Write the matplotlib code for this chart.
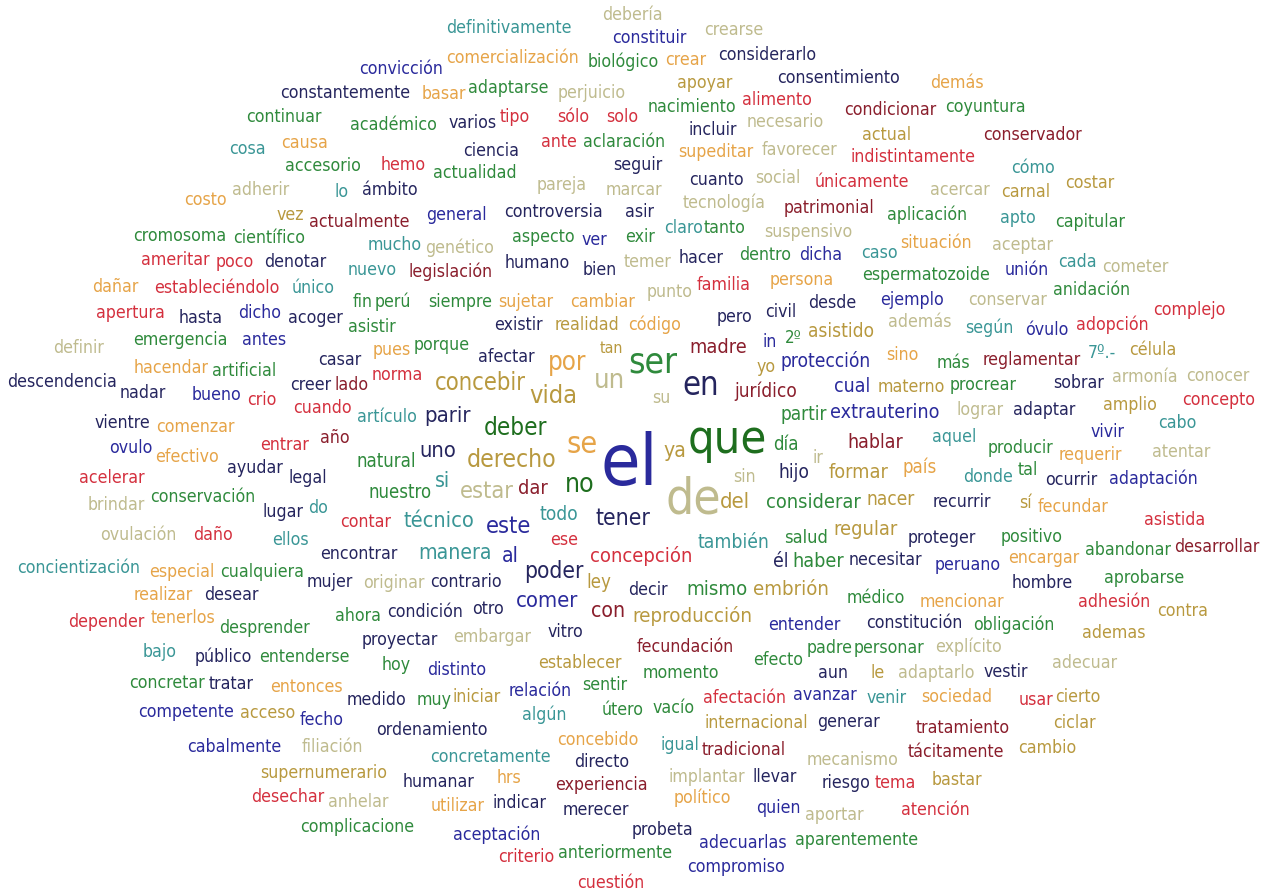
import matplotlib
matplotlib.use('Agg')
import matplotlib.pyplot as plt
from matplotlib import font_manager

# word cloud (pixel positions: left edge, baseline)
words = [
    'debería', 'definitivamente', 'crearse', 'constituir', 'considerarlo', 'comercialización', 'biológico', 'crear',
    'convicción', 'consentimiento', 'demás', 'apoyar', 'adaptarse', 'basar', 'perjuicio', 'constantemente',
    'alimento', 'coyuntura', 'nacimiento', 'condicionar', 'continuar', 'tipo', 'sólo', 'solo',
    'necesario', 'académico', 'varios', 'incluir', 'conservador', 'actual', 'causa', 'ante',
    'aclaración', 'cosa', 'ciencia', 'supeditar', 'favorecer', 'indistintamente', 'hemo', 'accesorio',
    'seguir', 'cómo', 'actualidad', 'cuanto', 'social', 'únicamente', 'costar', 'pareja',
    'adherir', 'lo', 'ámbito', 'marcar', 'acercar', 'carnal', 'costo', 'tecnología',
    'patrimonial', 'controversia', 'asir', 'aplicación', 'vez', 'general', 'apto', 'actualmente',
    'capitular', 'claro', 'tanto', 'suspensivo', 'cromosoma', 'científico', 'aspecto', 'exir',
    'ver', 'situación', 'mucho', 'aceptar', 'genético', 'caso', 'dentro', 'dicha',
    'hacer', 'ameritar', 'poco', 'denotar', 'temer', 'cada', 'humano', 'cometer',
    'nuevo', 'legislación', 'bien', 'unión', 'espermatozoide', 'persona', 'familia', 'dañar',
    'estableciéndolo', 'único', 'anidación', 'punto', 'conservar', 'fin', 'perú', 'siempre',
    'sujetar', 'cambiar', 'ejemplo', 'desde', 'apertura', 'dicho', 'complejo', 'civil',
    'hasta', 'acoger', 'pero', 'existir', 'realidad', 'código', 'asistir', 'además',
    'adopción', 'según', 'óvulo', 'asistido', 'emergencia', 'antes', 'in', '2º',
    'porque', 'definir', 'madre', 'tan', 'pues', 'célula', 'ser', '7º.-',
    'afectar', 'sino', 'casar', 'protección', 'reglamentar', 'más', 'por', 'hacendar',
    'artificial', 'yo', 'norma', 'un', 'armonía', 'conocer', 'concebir', 'descendencia',
    'sobrar', 'creer', 'lado', 'en', 'cual', 'materno', 'procrear', 'nadar',
    'bueno', 'vida', 'jurídico', 'su', 'crio', 'concepto', 'amplio', 'cuando',
    'adaptar', 'lograr', 'partir', 'extrauterino', 'artículo', 'parir', 'vientre', 'cabo',
    'comenzar', 'deber', 'vivir', 'año', 'aquel', 'entrar', 'hablar', 'día',
    'que', 'ovulo', 'producir', 'se', 'uno', 'ya', 'requerir', 'atentar',
    'ir', 'efectivo', 'el', 'natural', 'derecho', 'ayudar', 'país', 'hijo',
    'formar', 'tal', 'acelerar', 'legal', 'sin', 'donde', 'ocurrir', 'adaptación',
    'si', 'no', 'dar', 'estar', 'nuestro', 'conservación', 'del', 'considerar',
    'nacer', 'recurrir', 'de', 'sí', 'fecundar', 'brindar', 'do', 'lugar',
    'todo', 'tener', 'asistida', 'contar', 'técnico', 'este', 'ovulación', 'daño',
    'regular', 'positivo', 'salud', 'proteger', 'ellos', 'ese', 'también', 'abandonar',
    'desarrollar', 'encontrar', 'manera', 'al', 'él', 'haber', 'necesitar', 'concepción',
    'encargar', 'peruano', 'concientización', 'especial', 'cualquiera', 'poder', 'mujer', 'originar',
    'contrario', 'ley', 'decir', 'mismo', 'embrión', 'hombre', 'aprobarse', 'realizar',
    'desear', 'médico', 'mencionar', 'comer', 'adhesión', 'ahora', 'condición', 'otro',
    'con', 'contra', 'reproducción', 'depender', 'tenerlos', 'entender', 'constitución', 'obligación',
    'desprender', 'ademas', 'proyectar', 'embargar', 'vitro', 'fecundación', 'padre', 'personar',
    'explícito', 'bajo', 'público', 'entenderse', 'hoy', 'establecer', 'efecto', 'adecuar',
    'distinto', 'momento', 'aun', 'le', 'adaptarlo', 'vestir', 'concretar', 'tratar',
    'entonces', 'sentir', 'relación', 'afectación', 'avanzar', 'venir', 'sociedad', 'iniciar',
    'muy', 'medido', 'usar', 'cierto', 'útero', 'vacío', 'algún', 'competente',
    'acceso', 'fecho', 'internacional', 'generar', 'ciclar', 'ordenamiento', 'tratamiento', 'concebido',
    'cabalmente', 'filiación', 'igual', 'tradicional', 'cambio', 'tácitamente', 'concretamente', 'mecanismo',
    'directo', 'supernumerario', 'implantar', 'llevar', 'hrs', 'bastar', 'humanar', 'riesgo',
    'tema', 'experiencia', 'desechar', 'político', 'anhelar', 'utilizar', 'indicar', 'quien',
    'merecer', 'aportar', 'atención', 'complicacione', 'probeta', 'aceptación', 'adecuarlas', 'aparentemente',
    'anteriormente', 'criterio', 'compromiso', 'cuestión',
]

xs = [
    602, 446, 704, 612, 718, 446, 588, 665,
    359, 777, 930, 677, 468, 422, 558, 280,
    742, 945, 648, 844, 246, 500, 557, 606,
    747, 350, 449, 688, 983, 862, 281, 541,
    583, 229, 463, 678, 762, 851, 381, 285,
    613, 1011, 433, 689, 755, 815, 1065, 537,
    232, 334, 362, 606, 930, 1001, 184, 683,
    784, 504, 625, 887, 277, 426, 1000, 309,
    1055, 664, 704, 764, 133, 233, 512, 625,
    582, 900, 368, 992, 425, 861, 739, 799,
    679, 141, 216, 264, 624, 1058, 505, 1102,
    348, 408, 583, 1005, 862, 770, 697, 92,
    154, 292, 1053, 647, 968, 353, 375, 428,
    498, 570, 880, 808, 96, 238, 1153, 765,
    179, 288, 717, 494, 555, 628, 348, 888,
    1076, 965, 1025, 808, 133, 242, 762, 785,
    414, 53, 689, 600, 373, 1129, 628, 1088,
    478, 886, 318, 781, 983, 937, 548, 134,
    212, 757, 372, 594, 1112, 1186, 435, 7,
    1053, 290, 335, 682, 834, 878, 950, 120,
    192, 529, 734, 652, 247, 1182, 1103, 293,
    1013, 957, 780, 830, 357, 424, 95, 1158,
    156, 484, 1091, 320, 932, 260, 847, 773,
    688, 109, 988, 567, 419, 663, 1059, 1152,
    812, 155, 601, 357, 467, 227, 903, 778,
    829, 1018, 79, 288, 733, 963, 1045, 1109,
    435, 565, 518, 460, 368, 150, 720, 766,
    866, 933, 665, 1019, 1038, 88, 308, 262,
    540, 596, 1144, 340, 403, 486, 100, 193,
    833, 1001, 784, 908, 272, 550, 698, 1085,
    1174, 320, 418, 502, 773, 792, 849, 590,
    1008, 935, 17, 149, 220, 524, 307, 363,
    430, 586, 628, 686, 753, 1012, 1104, 134,
    204, 847, 920, 516, 1078, 335, 387, 472,
    591, 1157, 632, 68, 151, 768, 866, 973,
    219, 1082, 362, 453, 548, 637, 807, 854,
    935, 143, 195, 259, 382, 538, 753, 1052,
    427, 643, 818, 870, 898, 984, 129, 209,
    270, 582, 509, 703, 793, 867, 921, 453,
    417, 347, 1019, 1055, 602, 653, 522, 138,
    240, 300, 705, 817, 1053, 376, 916, 557,
    187, 302, 661, 702, 1018, 908, 430, 807,
    574, 260, 668, 753, 497, 932, 403, 822,
    875, 555, 251, 674, 328, 431, 492, 756,
    563, 805, 901, 300, 632, 453, 699, 795,
    558, 498, 687, 577,
]

ys = [
    20, 33, 35, 43, 60, 63, 67, 65,
    74, 83, 88, 88, 93, 99, 98, 98,
    105, 112, 112, 115, 122, 122, 122, 122,
    127, 130, 128, 135, 140, 140, 148, 147,
    147, 154, 156, 157, 155, 162, 170, 171,
    170, 173, 178, 185, 183, 187, 188, 190,
    195, 197, 195, 195, 195, 197, 205, 208,
    213, 217, 217, 220, 220, 220, 223, 227,
    227, 233, 233, 237, 241, 243, 242, 242,
    245, 248, 250, 250, 253, 258, 260, 260,
    263, 265, 267, 267, 267, 267, 268, 272,
    275, 277, 275, 275, 280, 285, 290, 292,
    293, 293, 295, 297, 305, 307, 307, 307,
    307, 307, 305, 308, 318, 318, 315, 317,
    323, 323, 322, 330, 330, 330, 332, 327,
    330, 333, 335, 337, 345, 345, 347, 343,
    350, 353, 353, 353, 355, 355, 372, 358,
    362, 360, 365, 367, 365, 368, 370, 373,
    376, 372, 380, 388, 382, 381, 390, 387,
    388, 390, 390, 395, 392, 392, 390, 398,
    400, 403, 397, 403, 405, 405, 410, 413,
    415, 415, 420, 418, 422, 422, 428, 428,
    432, 435, 437, 443, 442, 450, 448, 450,
    453, 453, 453, 453, 457, 457, 460, 457,
    463, 462, 485, 467, 467, 473, 473, 478,
    478, 475, 483, 483, 482, 482, 485, 484,
    487, 492, 494, 498, 498, 502, 508, 508,
    505, 507, 513, 508, 512, 510, 513, 517,
    520, 525, 525, 527, 527, 533, 540, 540,
    535, 542, 543, 543, 545, 545, 548, 555,
    552, 559, 559, 562, 567, 567, 565, 562,
    563, 570, 573, 577, 577, 578, 587, 588,
    587, 588, 595, 595, 595, 588, 583, 600,
    600, 603, 607, 607, 607, 621, 617, 614,
    617, 616, 622, 627, 623, 630, 628, 630,
    633, 638, 645, 642, 637, 652, 653, 653,
    652, 657, 662, 662, 670, 668, 665, 668,
    675, 678, 678, 678, 678, 677, 688, 689,
    692, 690, 696, 703, 700, 703, 702, 702,
    705, 705, 705, 702, 715, 713, 720, 717,
    718, 725, 728, 727, 728, 735, 733, 745,
    752, 752, 750, 755, 753, 757, 762, 765,
    767, 778, 782, 782, 783, 785, 787, 788,
    788, 790, 802, 803, 807, 811, 808, 813,
    815, 820, 815, 832, 835, 840, 848, 845,
    858, 862, 872, 888,
]

color_keys = [
    'K', 'T', 'K', 'B', 'N', 'O', 'G', 'O',
    'B', 'N', 'O', 'OL', 'G', 'O', 'K', 'N',
    'R', 'G', 'G', 'DR', 'G', 'R', 'R', 'R',
    'K', 'G', 'N', 'N', 'DR', 'OL', 'O', 'R',
    'G', 'T', 'N', 'O', 'K', 'R', 'R', 'G',
    'N', 'T', 'G', 'N', 'K', 'R', 'OL', 'K',
    'K', 'T', 'N', 'K', 'K', 'OL', 'O', 'K',
    'DR', 'N', 'N', 'G', 'OL', 'B', 'T', 'DR',
    'G', 'T', 'G', 'K', 'G', 'G', 'G', 'G',
    'B', 'O', 'T', 'K', 'K', 'T', 'G', 'B',
    'N', 'R', 'R', 'N', 'K', 'T', 'N', 'K',
    'T', 'DR', 'N', 'B', 'G', 'O', 'R', 'O',
    'R', 'T', 'G', 'K', 'K', 'G', 'G', 'G',
    'O', 'O', 'B', 'N', 'R', 'B', 'R', 'N',
    'N', 'N', 'N', 'N', 'OL', 'O', 'G', 'K',
    'R', 'T', 'B', 'OL', 'G', 'B', 'B', 'G',
    'G', 'K', 'DR', 'OL', 'O', 'OL', 'G', 'T',
    'N', 'O', 'N', 'B', 'DR', 'G', 'O', 'O',
    'G', 'OL', 'R', 'K', 'K', 'K', 'OL', 'N',
    'N', 'N', 'DR', 'N', 'B', 'OL', 'G', 'N',
    'B', 'OL', 'DR', 'K', 'R', 'R', 'OL', 'R',
    'N', 'K', 'G', 'B', 'T', 'N', 'N', 'T',
    'O', 'DG', 'B', 'DR', 'T', 'R', 'DR', 'G',
    'DG', 'B', 'G', 'O', 'N', 'OL', 'O', 'K',
    'K', 'O', 'B', 'G', 'OL', 'N', 'O', 'N',
    'OL', 'G', 'R', 'N', 'K', 'T', 'N', 'B',
    'T', 'DG', 'DR', 'K', 'G', 'G', 'OL', 'G',
    'OL', 'N', 'K', 'OL', 'O', 'K', 'T', 'N',
    'T', 'N', 'R', 'R', 'T', 'B', 'K', 'R',
    'OL', 'G', 'G', 'N', 'T', 'R', 'T', 'G',
    'DR', 'N', 'T', 'B', 'N', 'G', 'N', 'R',
    'O', 'B', 'T', 'O', 'G', 'N', 'N', 'K',
    'N', 'OL', 'N', 'G', 'OL', 'N', 'G', 'O',
    'N', 'G', 'O', 'B', 'R', 'G', 'N', 'N',
    'DR', 'OL', 'OL', 'R', 'O', 'B', 'N', 'G',
    'G', 'OL', 'N', 'K', 'N', 'DR', 'G', 'G',
    'K', 'T', 'N', 'G', 'G', 'OL', 'G', 'K',
    'B', 'G', 'N', 'OL', 'K', 'N', 'G', 'N',
    'O', 'G', 'B', 'R', 'B', 'T', 'O', 'OL',
    'G', 'N', 'R', 'OL', 'G', 'G', 'T', 'B',
    'OL', 'B', 'OL', 'N', 'OL', 'N', 'DR', 'O',
    'B', 'K', 'T', 'DR', 'OL', 'DR', 'T', 'K',
    'N', 'OL', 'K', 'N', 'O', 'OL', 'N', 'N',
    'R', 'DR', 'R', 'O', 'K', 'O', 'N', 'B',
    'N', 'K', 'R', 'G', 'N', 'B', 'B', 'G',
    'G', 'R', 'B', 'R',
]

# relative word size (everything else is 1)
big = {
    'el': 4.05, 'de': 2.8, 'que': 2.65, 'ser': 2.0, 'en': 1.85, 'se': 1.73,
    'un': 1.55, 'no': 1.5, 'por': 1.46, 'vida': 1.43, 'derecho': 1.4,
    'deber': 1.37, 'concebir': 1.35, 'estar': 1.33, 'este': 1.33,
    'tener': 1.3, 'poder': 1.28, 'parir': 1.25, 'uno': 1.25, 'comer': 1.25,
    'del': 1.25, 'técnico': 1.23, 'con': 1.2, 'manera': 1.2, 'al': 1.2,
    'si': 1.2, 'ya': 1.2, 'reproducción': 1.16, 'mismo': 1.15,
    'embrión': 1.15, 'concepción': 1.14, 'considerar': 1.13, 'regular': 1.13,
    'dar': 1.13, 'madre': 1.12, 'formar': 1.12, 'extrauterino': 1.11,
    'haber': 1.11, 'hablar': 1.1, 'cual': 1.1, 'él': 1.1, 'también': 1.09,
    'todo': 1.08, 'jurídico': 1.08, 'asistido': 1.08, 'protección': 1.08,
    'nacer': 1.08, 'hijo': 1.08, 'partir': 1.07, 'natural': 1.05,
    'nuestro': 1.05, 'día': 1.05, 'país': 1.05, 'ley': 1.05, 'salud': 1.03,
    'tan': 0.9, '2º': 0.95,
}

palette = {
    'N': '#25255e', 'B': '#2a2a9c', 'T': '#3a9696', 'O': '#e6a448',
    'G': '#2f8a3c', 'DG': '#1e6e1e', 'R': '#d4303e', 'DR': '#8a1e2c',
    'OL': '#b8993f', 'K': '#bfbb8e',
}

# the original face is narrow and tall (Tahoma-like); a condensed DejaVu is
# closer if it is installed, otherwise plain DejaVu at a width-matched size
stretch = 'normal'
base_pt = 11.5
try:
    fp = font_manager.FontProperties(family='DejaVu Sans', stretch='condensed')
    path = font_manager.findfont(fp, fallback_to_default=False)
    if 'Condensed' in path:
        stretch = 'condensed'
        base_pt = 12.7
except Exception:
    pass

fig = plt.figure(figsize=(12.74, 8.95), dpi=100)
ax = fig.add_axes([0, 0, 1, 1])
ax.set_xlim(0, 1274)
ax.set_ylim(895, 0)
ax.axis('off')

for w, x, y, c in zip(words, xs, ys, color_keys):
    ax.text(x, y, w, fontsize=base_pt * big.get(w, 1.0), color=palette[c],
            ha='left', va='baseline', family='DejaVu Sans', fontstretch=stretch)

fig.savefig('out.png', dpi=100, facecolor='white')
